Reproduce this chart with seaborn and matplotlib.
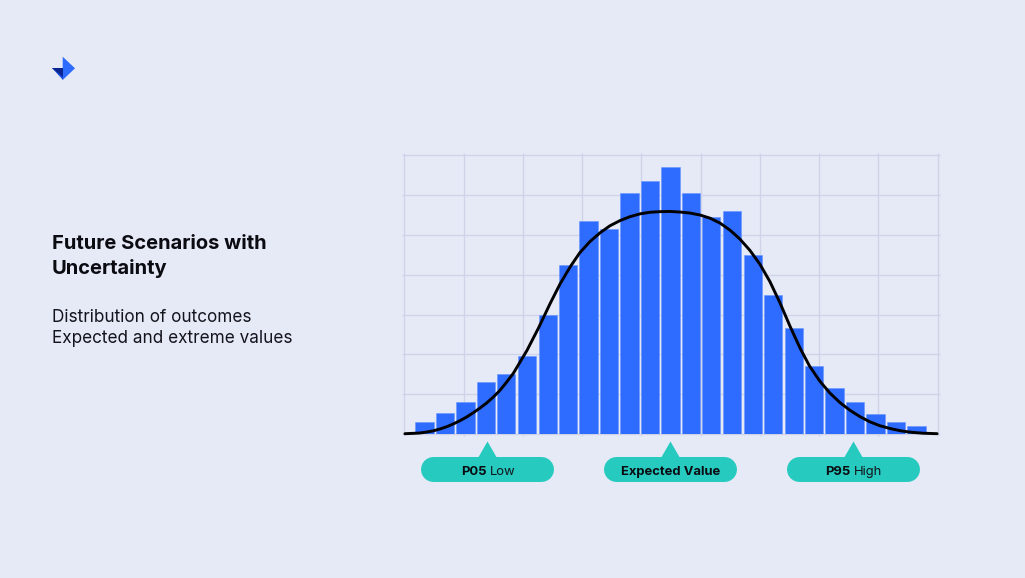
import matplotlib
matplotlib.use("Agg")
import matplotlib.pyplot as plt
from matplotlib.patches import Polygon
import pandas as pd
import seaborn as sns

# Histogram
bin_centers = [0.34, 0.69, 1.03, 1.38, 1.72, 2.07, 2.42, 2.76, 3.11, 3.45, 3.80, 4.15, 4.49,
               4.84, 5.18, 5.53, 5.88, 6.22, 6.57, 6.91, 7.26, 7.61, 7.95, 8.30, 8.64]
bin_counts = [5.9, 10.4, 16, 26, 30, 39, 60, 85, 107, 103, 121, 127, 134,
              121, 109, 112, 90, 70, 53, 34, 23, 16, 10, 6, 4]

# Fitted curve
curve_x = [0.01, 0.13, 0.26, 0.37, 0.49, 0.60, 0.72, 0.83, 0.94, 1.05, 1.16, 1.27, 1.39, 1.50,
           1.61, 1.72, 1.84, 1.95, 2.07, 2.26, 2.46, 2.63, 2.80, 2.96, 3.13, 3.30, 3.47, 3.64,
           3.81, 3.98, 4.15, 4.32, 4.48, 4.65, 4.82, 4.99, 5.16, 5.33, 5.50, 5.66, 5.83, 6.00,
           6.17, 6.34, 6.51, 6.68, 6.84, 7.01, 7.18, 7.35, 7.52, 7.69, 7.85, 8.02, 8.19, 8.36,
           8.47, 8.58, 8.75, 8.99]
curve_y = [0.15, 0.3, 0.5, 0.95, 1.6, 2.5, 3.7, 5.1, 6.7, 8.5, 10.6, 12.9, 15.6, 18.5,
           21.8, 25.8, 30.5, 36, 42, 53, 65.5, 75.5, 84, 91, 96.6, 101, 104.6, 107.2,
           109.2, 110.6, 111.4, 111.7, 111.8, 111.5, 111, 110, 108.4, 105.9, 102.3, 98, 92.3, 85.3,
           76.5, 65.8, 54, 43, 34, 26.6, 20.6, 15.8, 11.9, 8.7, 6.2, 4.2, 2.8, 1.7,
           1.2, 0.8, 0.4, 0.15]

title_lines = ["Future Scenarios with", "Uncertainty"]
subtitle_lines = ["Distribution of outcomes", "Expected and extreme values"]

BG = "#E6EAF7"
BLUE = "#2E6BFF"
TEAL = "#26CABE"
GRID = "#CFD3E8"

sns.set_theme(style="white")
plt.rcParams["font.family"] = ["Inter", "DejaVu Sans"]

W, H = 1025, 578
fig = plt.figure(figsize=(W / 100, H / 100), dpi=100, facecolor=BG)
ax = fig.add_axes([404.3 / W, 1 - 434 / H, (937.7 - 404.3) / W, (434 - 155.3) / H], facecolor=BG)

hist = pd.DataFrame({"x": bin_centers, "count": bin_counts})
curve = pd.DataFrame({"x": curve_x, "y": curve_y})
sns.barplot(data=hist, x="x", y="count", native_scale=True, width=0.91, color=BLUE,
            saturation=1, edgecolor="#6C96FF", linewidth=0.4, ax=ax, zorder=2)
sns.lineplot(data=curve, x="x", y="y", color="black", linewidth=2.1, ax=ax, zorder=3,
             clip_on=False, errorbar=None, sort=False)

ax.set_xlim(0, 9)
ax.set_ylim(0, 140)
ax.set_xticks(range(0, 10))
ax.set_yticks(range(0, 141, 20))
ax.set_xticklabels([])
ax.set_yticklabels([])
ax.set_xlabel("")
ax.set_ylabel("")
ax.set_axisbelow(True)
ax.grid(True, color=GRID, linewidth=1.0)
for ln in ax.get_xgridlines() + ax.get_ygridlines():
    ln.set_clip_on(False)
ax.tick_params(length=1.5, width=1, color=GRID, left=True, right=True, top=True, bottom=True)
for s in ax.spines.values():
    s.set_visible(False)

# Overlay in pixel coordinates for the slide decoration
ov = fig.add_axes([0, 0, 1, 1], facecolor="none")
ov.set_xlim(0, W)
ov.set_ylim(H, 0)
ov.axis("off")

PX = 0.72
ov.text(52, 249, title_lines[0], fontsize=20.1 * PX, fontweight="bold", color="#0B0B12", va="baseline")
ov.text(52, 274, title_lines[1], fontsize=20.1 * PX, fontweight="bold", color="#0B0B12", va="baseline")
ov.text(52, 322, subtitle_lines[0], fontsize=17.15 * PX, color="#14141C", va="baseline")
ov.text(52, 343, subtitle_lines[1], fontsize=17.15 * PX, color="#14141C", va="baseline")

# Logo
ov.add_patch(Polygon([(62.7, 56.7), (75, 68.3), (62.7, 80)], closed=True, fc="#2E6BFF", ec="none"))
ov.add_patch(Polygon([(51.7, 68.3), (62.7, 68.3), (62.7, 80)], closed=True, fc="#1A4BE0", ec="none"))
ov.add_patch(Polygon([(51.7, 68.3), (62.7, 68.3), (62.7, 77)], closed=True, fc="#0A2590", ec="none"))

# Callouts
for left, apex in [(421, 487.5), (604, 670.5), (787, 853.5)]:
    ov.plot([left + 11.7, left + 133 - 13.3], [468.7, 468.7], color=TEAL, linewidth=25 * PX,
            solid_capstyle="round")
    ov.add_patch(Polygon([(apex - 9.5, 458), (apex, 441.5), (apex + 9.5, 458)],
                         closed=True, fc=TEAL, ec="none"))
ov.set_xlim(0, W)
ov.set_ylim(H, 0)

LBL = 13 * PX
ov.text(461, 475, "P05", fontsize=LBL, fontweight="bold", color="#0B0B12", va="baseline")
ov.text(490, 475, "Low", fontsize=LBL, color="#14141C", va="baseline")
ov.text(670.5, 475, "Expected Value", fontsize=LBL, fontweight="bold", color="#0B0B12", va="baseline", ha="center")
ov.text(825.5, 475, "P95", fontsize=LBL, fontweight="bold", color="#0B0B12", va="baseline")
ov.text(854, 475, "High", fontsize=LBL, color="#14141C", va="baseline")

fig.savefig("out.png", dpi=100, facecolor=BG)
